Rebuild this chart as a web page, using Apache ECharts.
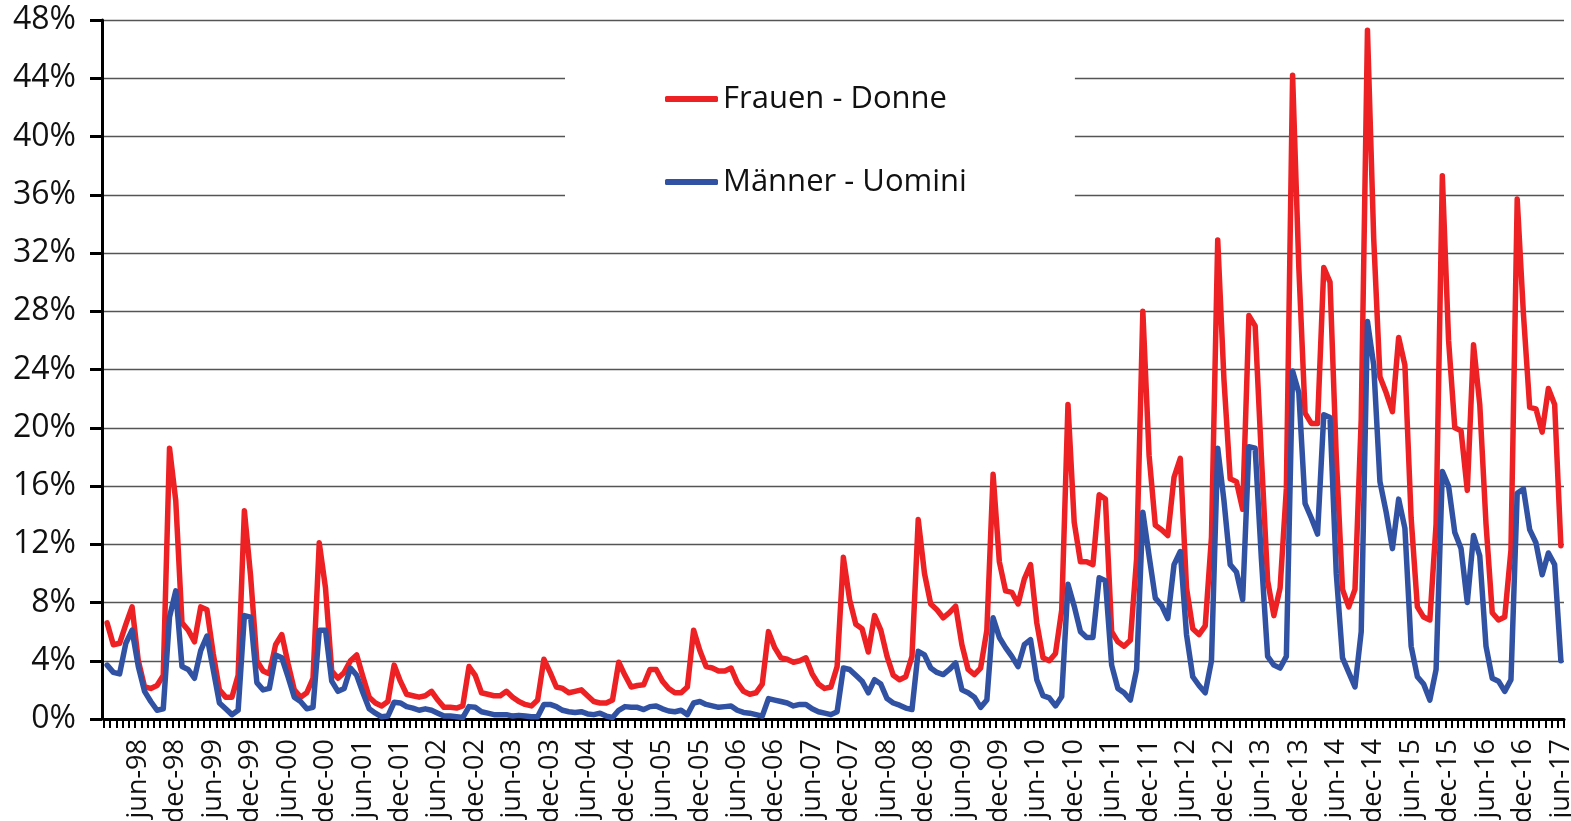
<!DOCTYPE html>
<html><head><meta charset="utf-8">
<script src="https://cdn.jsdelivr.net/npm/echarts@6/dist/echarts.min.js"></script>
<style>html,body{margin:0;padding:0;background:#fff}#c{width:1571px;height:821px}</style>
</head><body><div id="c"></div>
<script>
// Month categories jan-98 .. jun-17
const monthNames = ['jan','feb','mar','apr','may','jun','jul','aug','sep','oct','nov','dec'];
const firstYear = 1998, lastYear = 2017, monthsInLastYear = 6;
const categories = [];
for (let y = firstYear; y <= lastYear; y++) {
  for (let m = 0; m < 12; m++) {
    if (y === lastYear && m >= monthsInLastYear) break;
    categories.push(monthNames[m] + '-' + String(y).slice(2));
  }
}
// labelled months on the x axis
const labelledMonths = ['jun', 'dec'];
// y ticks (percent)
const yMin = 0, yMax = 48, yStep = 4;

// Frauen - Donne (percent), one row per year
const frauen = [
  6.6, 5.1, 5.2, 6.5, 7.7, 4.0, 2.2, 2.1, 2.3, 3.0, 18.6, 15.0,
  6.6, 6.1, 5.3, 7.7, 7.5, 4.5, 2.0, 1.5, 1.5, 3.0, 14.3, 9.8,
  4.0, 3.3, 3.1, 5.1, 5.8, 3.8, 2.0, 1.5, 1.8, 2.8, 12.1, 9.0,
  3.3, 2.8, 3.2, 4.0, 4.4, 2.9, 1.5, 1.1, 0.9, 1.2, 3.7, 2.6,
  1.7, 1.6, 1.5, 1.6, 1.9, 1.3, 0.8, 0.8, 0.75, 0.9, 3.6, 3.0,
  1.8, 1.7, 1.6, 1.6, 1.9, 1.5, 1.2, 1.0, 0.9, 1.3, 4.1, 3.2,
  2.2, 2.1, 1.8, 1.9, 2.0, 1.6, 1.2, 1.1, 1.1, 1.3, 3.9, 3.0,
  2.2, 2.3, 2.35, 3.4, 3.4, 2.6, 2.1, 1.8, 1.8, 2.2, 6.1, 4.7,
  3.6, 3.5, 3.3, 3.3, 3.5, 2.5, 1.9, 1.7, 1.8, 2.4, 6.0, 4.9,
  4.2, 4.1, 3.9, 4.0, 4.2, 3.1, 2.4, 2.1, 2.2, 3.6, 11.1, 8.2,
  6.5, 6.2, 4.6, 7.1, 6.1, 4.3, 3.0, 2.7, 2.9, 4.3, 13.7, 10.0,
  7.9, 7.5, 6.95, 7.3, 7.75, 5.1, 3.4, 3.05, 3.5, 6.1, 16.8, 10.8,
  8.8, 8.7, 7.9, 9.6, 10.6, 6.6, 4.2, 4.0, 4.5, 7.5, 21.6, 13.5,
  10.8, 10.8, 10.6, 15.4, 15.1, 6.0, 5.3, 5.0, 5.4, 11.0, 28.0, 18.1,
  13.3, 13.0, 12.6, 16.6, 17.9, 9.0, 6.2, 5.8, 6.4, 12.5, 32.9, 23.3,
  16.5, 16.3, 14.4, 27.7, 27.0, 18.0, 9.5, 7.1, 9.0, 15.8, 44.2, 31.0,
  21.0, 20.3, 20.3, 31.0, 30.0, 18.0, 8.9, 7.7, 8.9, 20.6, 47.3, 33.0,
  23.5, 22.4, 21.1, 26.2, 24.3, 13.8, 7.7, 7.0, 6.8, 13.4, 37.3, 26.0,
  20.0, 19.8, 15.7, 25.7, 21.6, 13.4, 7.3, 6.8, 7.0, 11.6, 35.7, 27.8,
  21.4, 21.3, 19.7, 22.7, 21.6, 11.9
];

// Männer - Uomini (percent)
const maenner = [
  3.7, 3.2, 3.1, 5.2, 6.1, 3.6, 1.9, 1.2, 0.6, 0.7, 7.0, 8.8,
  3.6, 3.4, 2.8, 4.7, 5.7, 3.4, 1.1, 0.7, 0.3, 0.6, 7.1, 7.0,
  2.5, 2.0, 2.1, 4.4, 4.2, 2.9, 1.5, 1.2, 0.7, 0.8, 6.1, 6.1,
  2.6, 1.9, 2.1, 3.5, 3.0, 1.8, 0.7, 0.4, 0.15, 0.2, 1.15, 1.1,
  0.85, 0.75, 0.6, 0.7, 0.6, 0.4, 0.2, 0.2, 0.15, 0.1, 0.85, 0.8,
  0.5, 0.4, 0.3, 0.3, 0.3, 0.2, 0.25, 0.2, 0.15, 0.15, 1.0, 1.0,
  0.85, 0.6, 0.5, 0.45, 0.5, 0.35, 0.3, 0.4, 0.2, 0.1, 0.6, 0.85,
  0.8, 0.8, 0.65, 0.85, 0.9, 0.7, 0.55, 0.5, 0.6, 0.3, 1.1, 1.2,
  1.0, 0.9, 0.8, 0.85, 0.9, 0.6, 0.45, 0.4, 0.3, 0.2, 1.4, 1.3,
  1.2, 1.1, 0.9, 1.0, 1.0, 0.7, 0.5, 0.4, 0.3, 0.5, 3.5, 3.4,
  3.0, 2.6, 1.8, 2.7, 2.4, 1.4, 1.1, 0.95, 0.75, 0.65, 4.65, 4.4,
  3.5, 3.2, 3.05, 3.4, 3.85, 2.0, 1.8, 1.5, 0.8, 1.3, 6.95, 5.6,
  4.9, 4.3, 3.6, 5.1, 5.45, 2.7, 1.6, 1.45, 0.9, 1.55, 9.25, 7.75,
  6.0, 5.6, 5.6, 9.7, 9.5, 3.7, 2.1, 1.8, 1.3, 3.4, 14.2, 11.2,
  8.3, 7.8, 6.9, 10.6, 11.5, 5.8, 2.9, 2.3, 1.8, 4.0, 18.6, 15.0,
  10.6, 10.1, 8.2, 18.7, 18.6, 11.0, 4.3, 3.7, 3.5, 4.3, 23.9, 22.4,
  14.8, 13.8, 12.7, 20.9, 20.7, 10.0, 4.2, 3.2, 2.2, 6.0, 27.3, 24.3,
  16.3, 14.2, 11.7, 15.1, 13.1, 5.0, 2.9, 2.4, 1.3, 3.4, 17.0, 16.0,
  12.8, 11.7, 8.0, 12.6, 11.2, 5.0, 2.8, 2.6, 1.9, 2.7, 15.5, 15.8,
  13.0, 12.1, 9.9, 11.4, 10.6, 4.0
];

const seriesNames = ['Frauen - Donne', 'Männer - Uomini'];
const seriesColors = ['#ED2024', '#3151A3'];
const FONT = "'Open Sans', 'Noto Sans', sans-serif";

const chart = echarts.init(document.getElementById('c'), null, {renderer: 'canvas'});
chart.setOption({
  animation: false,
  backgroundColor: '#fff',
  grid: {left: 104, right: 7, top: 20, bottom: 102, containLabel: false, outerBoundsMode: 'none'},
  legend: {
    orient: 'vertical', left: 565, top: 53,
    padding: [28, 108, 30, 100],
    backgroundColor: '#fff',
    itemGap: 47, itemWidth: 53, itemHeight: 6, icon: 'roundRect',
    textStyle: {fontSize: 31, lineHeight: 36, color: '#111', fontFamily: FONT},
    data: seriesNames
  },
  xAxis: {
    type: 'category', data: categories, boundaryGap: true,
    axisLine: {lineStyle: {color: '#000', width: 3}},
    axisTick: {show: true, interval: 0, length: 9, lineStyle: {color: '#000', width: 2}},
    axisLabel: {
      interval: (i, v) => labelledMonths.includes(v.slice(0, 3)),
      rotate: 90, margin: 20, fontSize: 27, color: '#111', fontFamily: FONT
    },
    splitLine: {show: false}
  },
  yAxis: {
    type: 'value', min: yMin, max: yMax, interval: yStep, offset: 2,
    axisLine: {show: true, lineStyle: {color: '#000', width: 3}},
    axisTick: {show: true, length: 12, lineStyle: {color: '#000', width: 3}},
    axisLabel: {formatter: '{value}%', fontSize: 32, color: '#111', margin: 26, fontFamily: FONT},
    splitLine: {show: true, lineStyle: {color: '#555', width: 1.3}}
  },
  series: [
    {name: seriesNames[0], type: 'line', data: frauen, symbol: 'none', showSymbol: false,
     lineStyle: {color: seriesColors[0], width: 5.5, cap: 'round', join: 'round'},
     itemStyle: {color: seriesColors[0]}},
    {name: seriesNames[1], type: 'line', data: maenner, symbol: 'none', showSymbol: false,
     lineStyle: {color: seriesColors[1], width: 5.5, cap: 'round', join: 'round'},
     itemStyle: {color: seriesColors[1]}}
  ]
});
</script>
</body></html>
